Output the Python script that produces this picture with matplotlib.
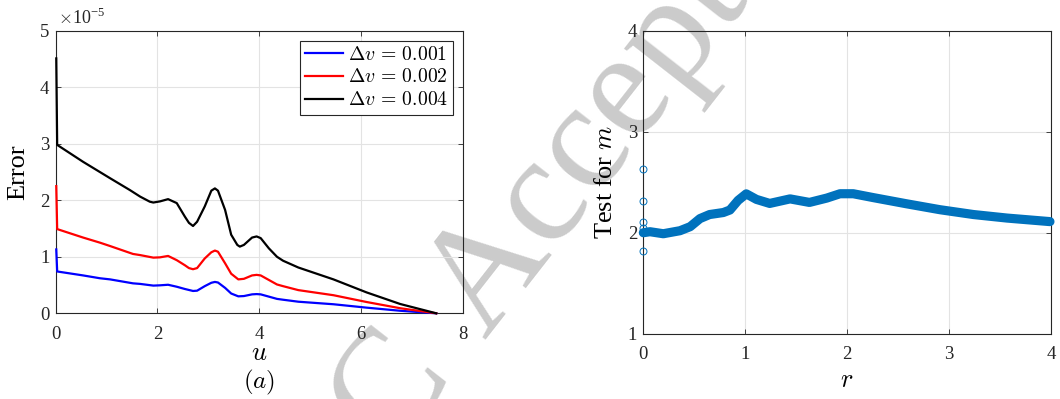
import matplotlib
matplotlib.use("Agg")
import matplotlib.pyplot as plt

# ---------------- data (left panel, values in units of 1e-5) ----------------
u_black = [0.012, 0.03, 0.54, 1.07, 1.46, 1.66, 1.85, 1.92, 2.05, 2.21, 2.38, 2.54, 2.62, 2.70,
           2.78, 2.93, 3.06, 3.13, 3.19, 3.33, 3.45, 3.57, 3.62, 3.70, 3.86, 3.95, 4.03,
           4.19, 4.35, 4.47, 4.77, 5.46, 6.11, 6.77, 7.48]
err_black = [4.51, 2.98, 2.68, 2.39, 2.18, 2.065, 1.975, 1.96, 1.98, 2.02, 1.95, 1.71, 1.60, 1.545,
             1.62, 1.89, 2.17, 2.21, 2.17, 1.83, 1.39, 1.21, 1.18, 1.21, 1.34, 1.36, 1.33,
             1.15, 1.00, 0.93, 0.81, 0.60, 0.37, 0.165, 0.0]

u_red = [0.012, 0.03, 0.54, 0.87, 1.07, 1.52, 1.66, 1.92, 2.05, 2.21, 2.38, 2.54, 2.62, 2.70,
         2.78, 2.93, 3.06, 3.13, 3.19, 3.33, 3.45, 3.59, 3.70, 3.86, 3.95, 4.03, 4.19,
         4.35, 4.47, 4.77, 5.46, 6.11, 6.77, 7.48]
err_red = [2.25, 1.49, 1.34, 1.25, 1.19, 1.05, 1.03, 0.985, 0.99, 1.015, 0.94, 0.85, 0.80, 0.78,
           0.80, 0.97, 1.08, 1.11, 1.09, 0.885, 0.70, 0.60, 0.61, 0.67, 0.68, 0.67, 0.59,
           0.51, 0.48, 0.41, 0.32, 0.20, 0.09, 0.0]

u_blue = [0.012, 0.03, 0.54, 0.87, 1.07, 1.52, 1.66, 1.92, 2.05, 2.21, 2.38, 2.54, 2.70, 2.78,
          2.93, 3.06, 3.13, 3.19, 3.33, 3.45, 3.59, 3.70, 3.86, 3.95, 4.03, 4.19, 4.35,
          4.47, 4.77, 5.46, 6.11, 6.77, 7.48]
err_blue = [1.13, 0.74, 0.67, 0.62, 0.60, 0.53, 0.52, 0.49, 0.495, 0.505, 0.47, 0.43, 0.395, 0.40,
            0.48, 0.54, 0.555, 0.545, 0.45, 0.35, 0.30, 0.305, 0.335, 0.34, 0.335, 0.295, 0.255,
            0.24, 0.205, 0.16, 0.10, 0.045, 0.0]

series_labels = [r'$\Delta v\,=\,0.001$', r'$\Delta v\,=\,0.002$', r'$\Delta v\,=\,0.004$']
left_xticks = [0, 2, 4, 6, 8]
left_yticks = [0, 1, 2, 3, 4, 5]
scale = 1e-5

# ---------------- data (right panel) ----------------
r_band = [0.0, 0.065, 0.196, 0.36, 0.46, 0.556, 0.65, 0.785, 0.85, 0.93, 1.01, 1.11, 1.24,
          1.44, 1.63, 1.80, 1.93, 2.06, 2.26, 2.58, 2.91, 3.24, 3.57, 3.99]
m_band = [2.0, 2.01, 1.99, 2.02, 2.06, 2.14, 2.18, 2.20, 2.225, 2.32, 2.385, 2.33, 2.29,
          2.335, 2.30, 2.343, 2.386, 2.386, 2.347, 2.287, 2.228, 2.18, 2.145, 2.11]
r_out = [0, 0, 0, 0, 0]
m_out = [2.63, 2.31, 2.11, 2.05, 1.82]
right_xticks = [0, 1, 2, 3, 4]
right_yticks = [1, 2, 3, 4]

# ---------------- style ----------------
plt.rcParams['font.family'] = ['Liberation Serif', 'DejaVu Serif']
plt.rcParams['mathtext.fontset'] = 'cm'
SPINE = '#262626'
GRID = '#e3e3e3'
MBLUE = '#0072BD'

fig = plt.figure(figsize=(10.6, 3.99), dpi=100)
axL = fig.add_axes([0.0525, 0.2148, 0.384, 0.7082])
axR = fig.add_axes([0.6069, 0.1636, 0.3846, 0.7594])


def style_axes(ax):
    ax.set_facecolor('none')
    for s in ax.spines.values():
        s.set_color(SPINE)
        s.set_linewidth(0.8)
    ax.tick_params(direction='in', top=True, right=True, length=3.3, width=0.6,
                   colors=SPINE, labelsize=13.5, labelcolor='#262626')
    ax.tick_params(axis='x', pad=9.0)
    ax.tick_params(axis='y', pad=4.5)
    ax.grid(True, color=GRID, linewidth=0.8)
    ax.set_axisbelow(True)


# ---- left ----
style_axes(axL)
for u, e, c, lab in zip([u_blue, u_red, u_black], [err_blue, err_red, err_black],
                        ['#0000ff', '#ff0000', '#000000'], series_labels):
    axL.plot(u, [v * scale for v in e], color=c, linewidth=1.6, label=lab,
             solid_joinstyle='round', zorder=3, clip_on=False)
axL.set_xlim(0, 8)
axL.set_ylim(0, 5 * scale)
axL.set_xticks(left_xticks)
axL.set_xticklabels([str(t) for t in left_xticks])
axL.set_yticks([t * scale for t in left_yticks])
axL.set_yticklabels([str(t) for t in left_yticks])
axL.text(0.006, 1.01, r'$\times$10$^{\mathdefault{-5}}$', transform=axL.transAxes,
         ha='left', va='bottom', fontsize=13, color='#262626')
axL.text(-0.092, 0.5, 'Error', transform=axL.transAxes, rotation=90,
         ha='center', va='center', fontsize=19)
axL.text(0.5, -0.166, r'$u$', transform=axL.transAxes, ha='center', va='baseline', fontsize=19)
axL.text(0.5, -0.245, r'$(a)$', transform=axL.transAxes, ha='center', va='center', fontsize=18)
leg = axL.legend(loc='upper right', fontsize=14.2, frameon=True, fancybox=False,
                 edgecolor='#262626', framealpha=1, borderaxespad=0.5,
                 handlelength=1.9, handletextpad=0.25, labelspacing=0.2, borderpad=0.25)
leg.get_frame().set_linewidth(0.8)
leg.set_zorder(5)

# ---- right ----
style_axes(axR)
axR.plot(r_band, m_band, color=MBLUE, linewidth=6.6, solid_capstyle='round',
         solid_joinstyle='round', clip_on=False, zorder=3)
axR.plot(r_out, m_out, linestyle='none', marker='o', markersize=5,
         markerfacecolor='none', markeredgecolor=MBLUE, markeredgewidth=0.7,
         clip_on=False, zorder=3)
axR.set_xlim(0, 4)
axR.set_ylim(1, 4)
axR.set_xticks(right_xticks)
axR.set_xticklabels([str(t) for t in right_xticks])
axR.set_yticks(right_yticks)
axR.set_yticklabels([str(t) for t in right_yticks])
axR.text(-0.0915, 0.502, r'Test for $m$', transform=axR.transAxes, rotation=90,
         ha='center', va='center', fontsize=19)
axR.text(0.5, -0.176, r'$r$', transform=axR.transAxes, ha='center', va='baseline', fontsize=19)

# ---- watermark ----
wm = dict(fontsize=110, color='#cbcbcb', family='Liberation Serif', rotation=52,
          rotation_mode='anchor', ha='left', va='baseline', zorder=-1)
fig.text(484 / 1060, 1 - 340 / 399, 'Accepted', **wm)
fig.text(390 / 1060, 1 - 452 / 399, 'C', **wm)

fig.savefig('out.png', dpi=100)
